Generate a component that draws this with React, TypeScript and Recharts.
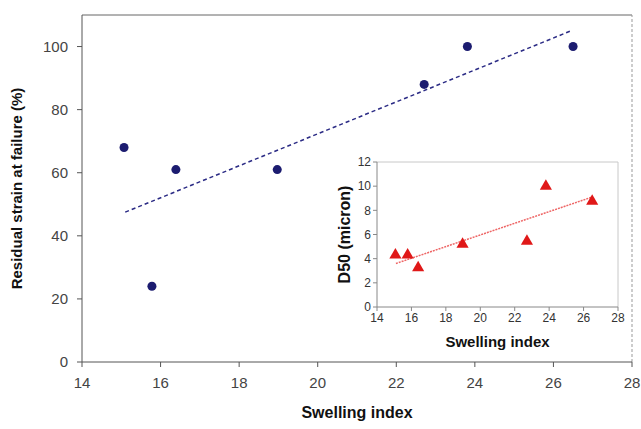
import {
  ScatterChart,
  Scatter,
  XAxis,
  YAxis,
  ZAxis,
  ReferenceLine,
} from 'recharts';

// Swelling index of the seven samples
const swelling = [15.07, 15.78, 16.39, 18.97, 22.71, 23.81, 26.5];
// Residual strain at failure (%)
const residualStrain = [68, 24, 61, 61, 88, 100, 100];
// D50 (micron), inset
const d50 = [4.3, 4.3, 3.25, 5.2, 5.45, 10, 8.75];

// Linear trend end points
const strainTrendX = [15.1, 26.45];
const strainTrendY = [47.5, 105];
const d50TrendX = [15.1, 26.5];
const d50TrendY = [3.6, 9.1];

const xTicks = [14, 16, 18, 20, 22, 24, 26, 28];
const strainTicks = [0, 20, 40, 60, 80, 100];
const d50Ticks = [0, 2, 4, 6, 8, 10, 12];

const strainData = swelling.map((x, i) => ({ x, y: residualStrain[i] }));
const d50Data = swelling.map((x, i) => ({ x, y: d50[i] }));
const strainTrend = strainTrendX.map((x, i) => ({ x, y: strainTrendY[i] }));
const d50Trend = d50TrendX.map((x, i) => ({ x, y: d50TrendY[i] }));

const font = 'Arial, "Liberation Sans", sans-serif';

function MainChart() {
  return (
    <ScatterChart width={641} height={429} margin={{ top: 15, right: 9, bottom: 0, left: 0 }}>
      <XAxis
        type="number"
        dataKey="x"
        domain={[14, 28]}
        ticks={xTicks}
        height={67}
        tickSize={5}
        tickMargin={10}
        stroke="#555"
        tick={{ fill: '#444', fontSize: 15, fontFamily: font }}
        label={{
          value: 'Swelling index',
          position: 'insideBottom',
          offset: 11,
          style: { fill: '#111', fontSize: 16, fontWeight: 'bold', fontFamily: font },
        }}
      />
      <YAxis
        type="number"
        dataKey="y"
        domain={[0, 110]}
        ticks={strainTicks}
        width={82}
        tickSize={5}
        tickMargin={9}
        stroke="#555"
        tick={{ fill: '#444', fontSize: 15, fontFamily: font }}
        label={{
          value: 'Residual strain at failure (%)',
          angle: -90,
          position: 'insideLeft',
          offset: 17,
          style: { textAnchor: 'middle', fill: '#111', fontSize: 15, fontWeight: 'bold', fontFamily: font },
        }}
      />
      <ZAxis range={[64, 64]} />
      <ReferenceLine y={110} stroke="#666" />
      <ReferenceLine x={28} stroke="#999" strokeDasharray="3 2" />
      <ReferenceLine
        segment={strainTrend}
        stroke="#2b2b85"
        strokeWidth={1.5}
        strokeDasharray="4 3"
      />
      <Scatter data={strainData} fill="#1c1c70" shape="circle" isAnimationActive={false} />
    </ScatterChart>
  );
}

function InsetChart() {
  return (
    <ScatterChart width={295} height={205} margin={{ top: 12, right: 7, bottom: 0, left: 0 }}>
      <XAxis
        type="number"
        dataKey="x"
        domain={[14, 28]}
        ticks={xTicks}
        height={48}
        tickSize={4}
        tickMargin={2}
        stroke="#888"
        tick={{ fill: '#333', fontSize: 12, fontFamily: font }}
        label={{
          value: 'Swelling index',
          position: 'insideBottom',
          offset: 8,
          style: { fill: '#111', fontSize: 15, fontWeight: 'bold', fontFamily: font },
        }}
      />
      <YAxis
        type="number"
        dataKey="y"
        domain={[0, 12]}
        ticks={d50Ticks}
        width={47}
        tickSize={4}
        tickMargin={2}
        stroke="#888"
        tick={{ fill: '#333', fontSize: 12, fontFamily: font }}
        label={{
          value: 'D50 (micron)',
          angle: -90,
          position: 'insideLeft',
          offset: 14,
          style: { textAnchor: 'middle', fill: '#111', fontSize: 16, fontWeight: 'bold', fontFamily: font },
        }}
      />
      <ZAxis range={[36, 36]} />
      <ReferenceLine y={12} stroke="#c8c8c8" />
      <ReferenceLine x={28} stroke="#c8c8c8" />
      <ReferenceLine
        segment={d50Trend}
        stroke="#ee6666"
        strokeWidth={1.5}
        strokeDasharray="2 1"
      />
      <Scatter data={d50Data} fill="#e01818" shape="triangle" isAnimationActive={false} />
    </ScatterChart>
  );
}

export default function App() {
  return (
    <div style={{ position: 'absolute', left: 0, top: 0, width: 641, height: 429, background: '#fff' }}>
      <MainChart />
      <div style={{ position: 'absolute', left: 330, top: 150 }}>
        <InsetChart />
      </div>
    </div>
  );
}
